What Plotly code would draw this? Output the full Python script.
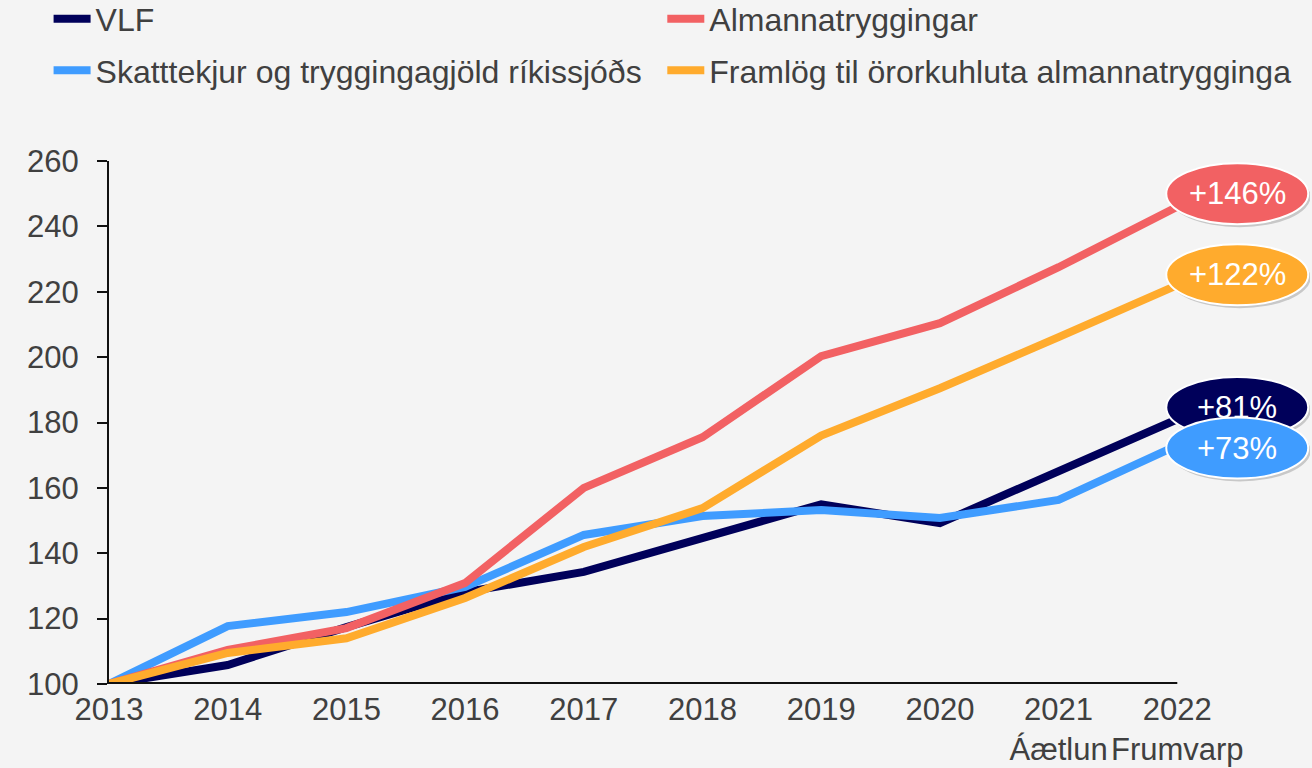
import plotly.graph_objects as go

# ---- data ----
years = [2013, 2014, 2015, 2016, 2017, 2018, 2019, 2020, 2021, 2022]
tick_text = ["2013", "2014", "2015", "2016", "2017", "2018", "2019", "2020",
             "2021<br>Áætlun", "2022<br>Frumvarp"]

series_names = ["VLF", "Skatttekjur og tryggingagjöld ríkissjóðs",
                "Almannatryggingar", "Framlög til örorkuhluta almannatrygginga"]
vlf = [100, 105.8, 117.4, 128.1, 134.3, 144.6, 155.0, 149.2, 164.8, 181]
skatt = [100, 117.7, 122.0, 129.7, 145.6, 151.4, 153.2, 150.8, 156.3, 173]
alm = [100, 110.4, 117.1, 130.9, 160.0, 175.5, 200.3, 210.4, 227.5, 246]
framlog = [100, 109.5, 114.0, 126.3, 141.9, 153.8, 176.0, 190.5, 206.1, 222]

# ---- styling ----
colors = ["#00005a", "#3f9cff", "#f26163", "#ffab2d"]
legends = ["legend", "legend", "legend2", "legend2"]
label_dy = [3.6, -0.8, 4.0, 3.2]      # vertical nudge of end labels (data units)
label_dx = 0.505                       # label centre right of last year (years)
half_w, half_h = 0.598, 9.33           # label ellipse half sizes (data units)
bg = "#f4f4f4"
txt = "#404040"
font_family = "Liberation Sans, Arial, sans-serif"

values = [vlf, skatt, alm, framlog]

fig = go.Figure()
for i, (name, vals) in enumerate(zip(series_names, values)):
    fig.add_trace(go.Scatter(
        x=years, y=vals, mode="lines", name=name,
        line=dict(color=colors[i], width=8),
        legend=legends[i], legendgroup=f"g{i}",
        hoverinfo="x+y+name",
    ))

shapes = []
annotations = []
# x-axis line from first to last year
shapes.append(dict(type="line", xref="x", yref="y",
                   x0=years[0], x1=years[-1], y0=100, y1=100,
                   line=dict(color="#111111", width=4), layer="above"))

# end labels: draw in order so that the later ones sit on top
for i, vals in enumerate(values):
    cx = years[-1] + label_dx
    cy = vals[-1] + label_dy[i]
    pct = round(vals[-1] - vals[0])
    # soft shadow
    shapes.append(dict(type="circle", xref="x", yref="y", layer="above",
                       x0=cx - half_w + 0.02, x1=cx + half_w + 0.02,
                       y0=cy - half_h - 0.9, y1=cy + half_h - 0.9,
                       fillcolor="rgba(0,0,0,0.18)", line=dict(width=0)))
    shapes.append(dict(type="circle", xref="x", yref="y", layer="above",
                       x0=cx - half_w, x1=cx + half_w,
                       y0=cy - half_h, y1=cy + half_h,
                       fillcolor=colors[i], line=dict(color="white", width=2)))
    annotations.append(dict(x=cx, y=cy, xref="x", yref="y", showarrow=False,
                            text=f"+{pct}%", font=dict(size=31, color="white",
                                                       family=font_family)))

legend_common = dict(yanchor="top", xanchor="left", orientation="v",
                     font=dict(size=32, color=txt), bgcolor="rgba(0,0,0,0)",
                     tracegroupgap=7, borderwidth=0, itemwidth=37)

fig.update_layout(
    width=1312, height=768,
    margin=dict(l=109, r=2, t=161, b=84, autoexpand=False),
    paper_bgcolor=bg, plot_bgcolor=bg,
    font=dict(family=font_family, size=31, color=txt),
    showlegend=True,
    shapes=shapes,
    legend=dict(x=-0.0503, y=1.3244, **legend_common),
    legend2=dict(x=0.4607, y=1.3244, **legend_common),
    xaxis=dict(range=[2013, 2013 + 1201 / 118.7], tickmode="array",
               tickvals=years, ticktext=tick_text, showline=False,
               showgrid=False, zeroline=False, ticks="",
               ticklabelstandoff=4,
               tickfont=dict(size=31, color=txt)),
    yaxis=dict(range=[100, 260], dtick=20, tick0=100, showline=True,
               linecolor="#111111", linewidth=2, ticks="outside",
               ticklen=10, tickwidth=2, tickcolor="#111111",
               showgrid=False, zeroline=False, ticklabelstandoff=12,
               tickfont=dict(size=31, color=txt)),
)
fig.update_layout(annotations=annotations)

fig.write_html("out.html", config={"displayModeBar": False},
               post_script="document.body.style.margin='0';")
